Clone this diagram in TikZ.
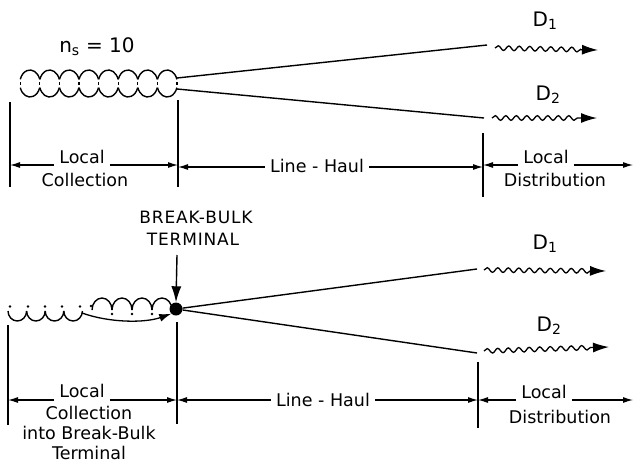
\documentclass[tikz,border=0pt]{standalone}
\usepackage{fontspec}
\setmainfont{DejaVu Sans}
\newfontfamily\capfont[LetterSpace=5]{DejaVu Sans}
\usetikzlibrary{arrows.meta,decorations.pathmorphing}
\begin{document}
\begin{tikzpicture}[x=1pt,y=-1pt,
  every node/.style={inner sep=5pt,font=\fontsize{17.5}{20}\selectfont},
  ln/.style={line width=1.4pt},
  tick/.style={line width=1.2pt},
  dim/.style={line width=1.1pt,-{Latex[length=10pt,width=6pt]}},
  big/.style={-{Latex[length=16pt,width=10pt]},line width=1.4pt},
  wavy/.style={line width=1.3pt,-{Latex[length=16pt,width=10pt]},decorate,
     decoration={snake,segment length=10.5pt,amplitude=2.3pt,post length=15pt}},
  lbl/.style={font=\fontsize{20}{22}\selectfont,inner sep=0pt},
  capsty/.style={font=\capfont\fontsize{17}{18}\selectfont,inner sep=0pt}]
\useasboundingbox (0,0) rectangle (638,464);

% ---------------- TOP ----------------
\node[lbl] (ns) at (97,47) {n\textsubscript{s} = 10};
% loops
\foreach \i in {0,...,7}{
  \pgfmathsetmacro{\cx}{30+19.6*\i}
  \draw[ln] (\cx,83.5) ++(18:10.2pt and 13.5pt) arc[start angle=18,end angle=162,x radius=10.2pt,y radius=13.5pt];
  \draw[ln] (\cx,83.5) ++(198:10.2pt and 13.5pt) arc[start angle=198,end angle=342,x radius=10.2pt,y radius=13.5pt];
  \draw[line width=1.1pt] (\cx-9.8,82.3) -- (\cx-9.8,84.7);
}
\draw[line width=1.1pt] (177,82.3) -- (177,84.7);
\coordinate (loopA) at (177,78);
\coordinate (loopB) at (177,89);
\coordinate (endA) at (487,45);
\coordinate (endB) at (484,118);
\draw[ln] (loopA) -- (endA);
\draw[ln] (loopB) -- (endB);
\coordinate (wA) at (495,48);
\coordinate (wAe) at (598,50);
\coordinate (wB) at (492,118);
\coordinate (wBe) at (597,118);
\draw[wavy] (wA) -- (wAe);
\draw[wavy] (wB) -- (wBe);
\node[lbl] (d1) at (545,21) {D\textsubscript{1}};
\node[lbl] (d2) at (548,95) {D\textsubscript{2}};

% ticks
\coordinate (t1a) at (10,102); \coordinate (t1b) at (10,187);
\coordinate (t2a) at (178,100); \coordinate (t2b) at (178,187);
\coordinate (t3a) at (483,133); \coordinate (t3b) at (483,197);
\coordinate (t4) at (633,165);
\draw[tick] (t1a) -- (t1b);
\draw[tick] (t2a) -- (t2b);
\draw[tick] (t3a) -- (t3b);

\node[anchor=base] (lc1) at (82,163) {Local};
\node[inner sep=0pt] (lc2) at (85,180) {Collection};
\draw[dim] ([yshift=-2pt]lc1.base west) -- ([yshift=-2pt]lc1.base west -| t1a);
\draw[dim] ([yshift=-2pt]lc1.base east) -- ([yshift=-2pt]lc1.base east -| t2a);

\node[anchor=base] (lh1) at (317,172) {Line - Haul};
\draw[dim] ([yshift=5pt]lh1.base west) -- ([yshift=5pt]lh1.base west -| t2a);
\draw[dim] ([yshift=5pt]lh1.base east) -- ([yshift=5pt]lh1.base east -| t3a);

\node[anchor=base] (ld1) at (546,163) {Local};
\node[inner sep=0pt] (ld2) at (555,180) {Distribution};
\draw[dim] ([yshift=-2pt]ld1.base west) -- ([yshift=-2pt]ld1.base west -| t3a);
\draw[dim] ([yshift=-2pt]ld1.base east) -- ([yshift=-2pt]ld1.base east -| t4);

% ---------------- BOTTOM ----------------
\node[capsty] (bb1) at (196,217) {BREAK-BULK};
\node[capsty] (bb2) at (193,239) {TERMINAL};
\node[circle,fill=black,inner sep=0pt,minimum size=13pt] (term) at (176,309) {};
\coordinate (arrtop) at (177,255);
\draw[big] (arrtop) -- (term.north);

% u arcs
\foreach \i in {0,...,3}{
  \pgfmathsetmacro{\cx}{8+9.3+18.6*\i}
  \draw[ln] (\cx,311) ++(180:9.3pt and 10pt) arc[start angle=180,end angle=360,x radius=9.3pt,y radius=10pt];
}
\foreach \x in {10,28,45,62,80}{ \fill (\x,306.5) circle (1.3pt); }
% n arches
\foreach \i in {0,...,3}{
  \pgfmathsetmacro{\cx}{92+10+20*\i}
  \draw[ln] (\cx,310) ++(180:10pt and 12pt) arc[start angle=180,end angle=0,x radius=10pt,y radius=12pt];
}
\foreach \x in {112,132,152}{ \fill (\x,314) circle (1.3pt); }
\fill (91,306) circle (1.3pt);
\coordinate (ustart) at (82,313);
\draw[line width=1.3pt,-{Latex[length=12pt,width=8pt]}] (ustart) .. controls (110,323) and (145,323) .. (term.south west);

\coordinate (eA2) at (477,269);
\coordinate (eB2) at (477,353);
\draw[ln] (term) -- (eA2);
\draw[ln] (term) -- (eB2);
\coordinate (wA2) at (484,270);
\coordinate (wA2e) at (606,271);
\coordinate (wB2) at (484,351);
\coordinate (wB2e) at (609,347);
\draw[wavy] (wA2) -- (wA2e);
\draw[wavy] (wB2) -- (wB2e);
\node[lbl] (d3) at (545,244) {D\textsubscript{1}};
\node[lbl] (d4) at (549,326) {D\textsubscript{2}};

\coordinate (s1a) at (8,325); \coordinate (s1b) at (8,425);
\coordinate (s2a) at (177,322); \coordinate (s2b) at (177,424);
\coordinate (s3a) at (478,362); \coordinate (s3b) at (478,428);
\coordinate (s4) at (633,400);
\draw[tick] (s1a) -- (s1b);
\draw[tick] (s2a) -- (s2b);
\draw[tick] (s3a) -- (s3b);

\node[anchor=base] (bl1) at (82,397) {Local};
\node[inner sep=0pt] (bl2) at (89,413) {Collection};
\node[inner sep=0pt] (bl3) at (89,433) {into Break-Bulk};
\node[inner sep=0pt] (bl4) at (89,453) {Terminal};
\draw[dim] ([yshift=-3pt]bl1.base west) -- ([yshift=-3pt]bl1.base west -| s1a);
\draw[dim] ([yshift=-3pt]bl1.base east) -- ([yshift=-3pt]bl1.base east -| s2a);

\node[anchor=base] (bh1) at (323,406) {Line - Haul};
\draw[dim] ([yshift=6pt]bh1.base west) -- ([yshift=6pt]bh1.base west -| s2a);
\draw[dim] ([yshift=6pt]bh1.base east) -- ([yshift=6pt]bh1.base east -| s3a);

\node[anchor=base] (bd1) at (544,398) {Local};
\node[inner sep=0pt] (bd2) at (560,417) {Distribution};
\draw[dim] ([yshift=-2pt]bd1.base west) -- ([yshift=-2pt]bd1.base west -| s3a);
\draw[dim] ([yshift=-2pt]bd1.base east) -- ([yshift=-2pt]bd1.base east -| s4);
\end{tikzpicture}
\end{document}
